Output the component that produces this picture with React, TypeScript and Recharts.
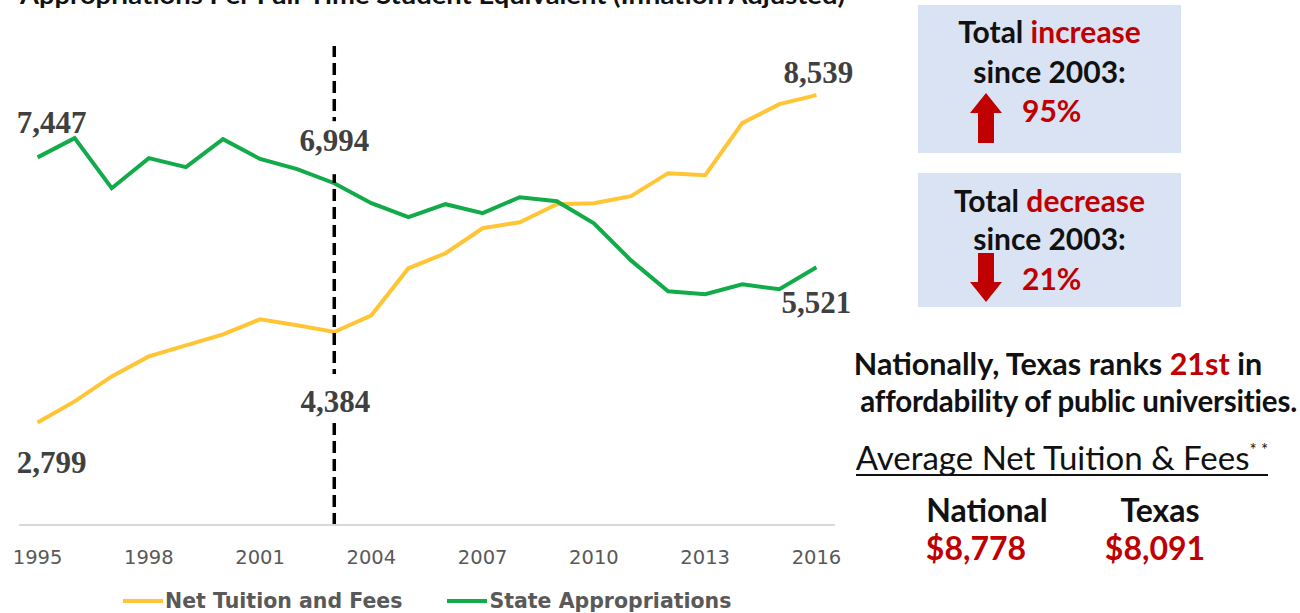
import React from 'react'
import { LineChart, Line, XAxis, YAxis, ReferenceLine, ReferenceDot } from 'recharts'

// per-FTE values, inflation adjusted
const YEARS = [1995, 1996, 1997, 1998, 1999, 2000, 2001, 2002, 2003, 2004, 2005, 2006, 2007, 2008, 2009, 2010, 2011, 2012, 2013, 2014, 2015, 2016]
const NET_TUITION = [2799, 3168, 3606, 3957, 4151, 4344, 4607, 4502, 4384, 4677, 5502, 5765, 6204, 6310, 6626, 6643, 6766, 7170, 7135, 8047, 8381, 8539]
const STATE_APPROPS = [7447, 7784, 6906, 7433, 7275, 7766, 7420, 7240, 6994, 6643, 6397, 6626, 6468, 6748, 6678, 6292, 5640, 5098, 5046, 5221, 5134, 5521]
const TICK_YEARS = [1995, 1998, 2001, 2004, 2007, 2010, 2013, 2016]
const MARK_YEAR = 2003

const SERIES = [
  { key: 'tuition', name: 'Net Tuition and Fees', color: '#FFC535' },
  { key: 'approps', name: 'State Appropriations', color: '#12AB4A' },
]

// which points get a value label, and where the label sits relative to the point
const CALLOUTS = [
  { key: 'tuition', year: 1995, dx: 14, dy: 51 },
  { key: 'tuition', year: 2003, dx: 1, dy: 80, gap: [42, 87] },
  { key: 'tuition', year: 2016, dx: 2, dy: -12 },
  { key: 'approps', year: 1995, dx: 14, dy: -24 },
  { key: 'approps', year: 2003, dx: 0, dy: -32, gap: [-62, -9] },
  { key: 'approps', year: 2016, dx: 0, dy: 46 },
]

const AVG_COLS = [
  { label: 'National', value: '$8,778' },
  { label: 'Texas', value: '$8,091' },
]

const data = YEARS.map((year, i) => ({ year, tuition: NET_TUITION[i], approps: STATE_APPROPS[i] }))

const fmt = (n: number) => n.toLocaleString('en-US')

const RED = '#C00000'
const SANS = 'Lato, "Open Sans", sans-serif'

function Callout(props: any) {
  const { cx, cy, value, dx, dy, gap } = props
  if (cx == null || cy == null) return <g />
  return (
    <g>
      {gap && <rect x={cx - 8} y={cy + gap[0]} width={16} height={gap[1] - gap[0]} fill="#fff" />}
      <text
        x={cx + dx}
        y={cy + dy}
        textAnchor="middle"
        fontFamily='"Liberation Serif", serif'
        fontWeight={700}
        fontSize={31}
        fill="#404040"
      >
        {fmt(value)}
      </text>
    </g>
  )
}

function UpArrow() {
  return (
    <svg width={32} height={50} style={{ display: 'block' }}>
      <polygon points="16,0 32,20 24,20 24,50 8,50 8,20 0,20" fill={RED} />
    </svg>
  )
}

function DownArrow() {
  return (
    <svg width={32} height={49} style={{ display: 'block' }}>
      <polygon points="8,0 24,0 24,29 32,29 16,49 0,29 8,29" fill={RED} />
    </svg>
  )
}

const boxLine: React.CSSProperties = {
  position: 'absolute',
  left: 0,
  right: 0,
  textAlign: 'center',
  fontSize: 30,
  lineHeight: '36px',
  fontWeight: 700,
  color: '#111',
}

function ChangeBox({ top, height, word, pct, up }: { top: number; height: number; word: string; pct: string; up: boolean }) {
  return (
    <div style={{ position: 'absolute', left: 918, top, width: 263, height, background: '#DAE3F3' }}>
      <div style={{ ...boxLine, top: up ? 8 : 9 }}>
        Total <span style={{ color: RED }}>{word}</span>
      </div>
      <div style={{ ...boxLine, top: up ? 48 : 47 }}>since 2003:</div>
      <div style={{ position: 'absolute', left: 52, top: up ? 88 : 80 }}>{up ? <UpArrow /> : <DownArrow />}</div>
      <div style={{ ...boxLine, left: 104, right: 'auto', top: 87, color: RED }}>{pct}</div>
    </div>
  )
}

export default function App() {
  return (
    <div style={{ position: 'absolute', left: 0, top: 0, width: 1300, height: 613, overflow: 'hidden', background: '#fff', fontFamily: SANS }}>
      <svg width={1300} height={20} style={{ position: 'absolute', left: 0, top: 0 }}>
        <text x={20} y={4} textLength={825} lengthAdjust="spacingAndGlyphs" fontFamily={SANS} fontWeight={700} fontSize={24} fill="#111">
          Appropriations Per Full-Time Student Equivalent (Inflation Adjusted)
        </text>
      </svg>

      <div style={{ position: 'absolute', left: 0, top: 0 }}>
        <LineChart width={860} height={613} data={data} margin={{ top: 46, right: 25, bottom: 0, left: 19 }}>
          <XAxis
            dataKey="year"
            type="number"
            domain={[1994.5, 2016.5]}
            ticks={TICK_YEARS}
            height={88}
            tickSize={0}
            tickMargin={25}
            tickLine={false}
            axisLine={{ stroke: '#D9D9D9', strokeWidth: 2 }}
            tick={{ fill: '#595959', fontSize: 19.5, fontFamily: '"DejaVu Sans", sans-serif' }}
          />
          <YAxis hide domain={[1000, 9400]} />
          {SERIES.map((s) => (
            <Line
              key={s.key}
              dataKey={s.key}
              name={s.name}
              stroke={s.color}
              strokeWidth={4}
              dot={false}
              activeDot={false}
              isAnimationActive={false}
            />
          ))}
          <ReferenceLine x={MARK_YEAR} stroke="#000" strokeWidth={3.5} strokeDasharray="12 6" />
          {CALLOUTS.map((c) => {
            const i = YEARS.indexOf(c.year)
            const v = c.key === 'tuition' ? NET_TUITION[i] : STATE_APPROPS[i]
            return (
              <ReferenceDot
                key={c.key + c.year}
                x={c.year}
                y={v}
                r={0}
                shape={(p: any) => <Callout {...p} value={v} dx={c.dx} dy={c.dy} gap={c.gap} />}
              />
            )
          })}
        </LineChart>
      </div>

      {/* legend */}
      <div style={{ position: 'absolute', left: 123, top: 589, display: 'flex', alignItems: 'center', gap: 45, fontFamily: '"DejaVu Sans", sans-serif', fontWeight: 700, fontSize: 20.5, color: '#595959' }}>
        {SERIES.map((s) => (
          <div key={s.key} style={{ display: 'flex', alignItems: 'center' }}>
            <div style={{ width: 40, height: 4, background: s.color, marginRight: 2 }} />
            <span>{s.name}</span>
          </div>
        ))}
      </div>

      <ChangeBox top={5} height={148} word="increase" pct="95%" up />
      <ChangeBox top={173} height={134} word="decrease" pct="21%" up={false} />

      <div style={{ position: 'absolute', left: 808, width: 500, top: 344, textAlign: 'center', fontSize: 30.5, fontWeight: 700, color: '#111', lineHeight: '38px', whiteSpace: 'nowrap' }}>
        Nationally, Texas ranks <span style={{ color: RED }}>21st</span> in
      </div>
      <div style={{ position: 'absolute', right: 3, top: 382, textAlign: 'right', fontSize: 29.5, fontWeight: 700, color: '#111', lineHeight: '38px', whiteSpace: 'nowrap', letterSpacing: -0.2 }}>
        affordability of public universities.
      </div>
      <div style={{ position: 'absolute', left: 812, width: 500, top: 441, textAlign: 'center' }}>
        <span style={{ display: 'inline-block', fontSize: 33, fontWeight: 400, color: '#111', borderBottom: '2px solid #111', lineHeight: '33px' }}>
          Average Net Tuition &amp; Fees<span style={{ fontSize: 17, verticalAlign: 'top', lineHeight: '18px' }}>* *</span>
        </span>
      </div>
      {AVG_COLS.map((col, i) => {
        const cx = i === 0 ? 987 : 1160
        return (
          <div key={col.label} style={{ position: 'absolute', left: cx - 90, width: 180, top: 491, textAlign: 'center', fontWeight: 700, fontSize: 32 }}>
            <div style={{ color: '#111', lineHeight: '38px' }}>{col.label}</div>
            <div style={{ color: RED, lineHeight: '38px', marginLeft: i === 0 ? -22 : -10 }}>{col.value}</div>
          </div>
        )
      })}
    </div>
  )
}
